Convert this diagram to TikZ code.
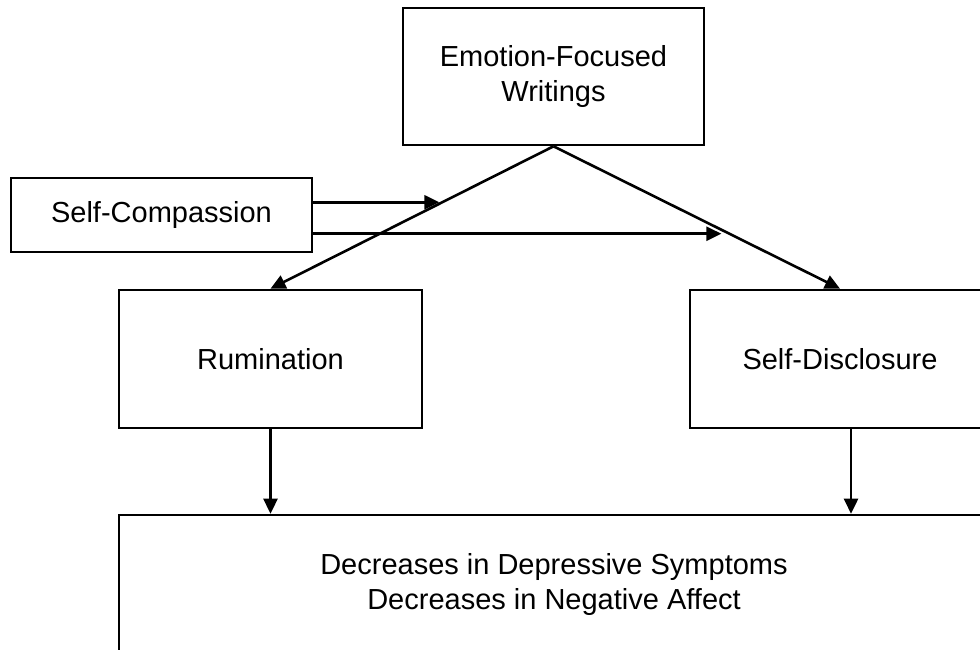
\documentclass[tikz,border=0pt]{standalone}
\usepackage{fontspec}
\setmainfont{Liberation Sans}
\usetikzlibrary{arrows.meta,calc}

\begin{document}
\begin{tikzpicture}[x=1pt,y=-1pt,
  box/.style={draw, line width=2.6pt, rectangle, inner sep=0pt, align=center,
              font=\fontsize{29}{35}\selectfont},
  link/.style={line width=2.6pt, -{Triangle[length=15pt,width=14pt]}},
  plain/.style={line width=2.6pt}]
  % page frame: the lower boxes run past the right and bottom edges
  \useasboundingbox (0,0) rectangle (980,649);
  \clip (0,0) rectangle (980,649);
  \fill[white] (0,0) rectangle (980,649);

  % boxes
  \node[box, minimum width=301pt, minimum height=137pt] (efw) at (553.5,76.5)
       {Emotion-Focused\\Writings};
  \node[box, minimum width=301pt, minimum height=74pt] (sc) at (161.5,215)
       {Self-Compassion};
  \node[box, minimum width=303pt, minimum height=138pt] (rum) at (270.5,359)
       {Rumination};
  \node[box, minimum width=300pt, minimum height=138pt] (sd) at (840,359)
       {Self-Disclosure};
  \node[box, minimum width=870pt, minimum height=138pt] (out) at (554,584)
       {Decreases in Depressive Symptoms\\Decreases in Negative Affect};

  % paths from the writing task to the two mediators
  \draw[link] (efw.south) -- (rum.north)
     coordinate[pos=0.393] (m1);
  \draw[link] (efw.south) -- (sd.north)
     coordinate[pos=0.614] (m2);

  % moderation by self-compassion onto each path
  \draw[link] (sc.east |- m1) -- ([xshift=-3pt]m1);
  \draw[link] (sc.east |- m2) -- ([xshift=-8pt]m2);

  % mediators to outcomes
  \draw[link] (rum.south) -- (rum.south |- out.north);
  \draw[link] ([xshift=11pt]sd.south) -- ([xshift=11pt]sd.south |- out.north);
\end{tikzpicture}
\end{document}
